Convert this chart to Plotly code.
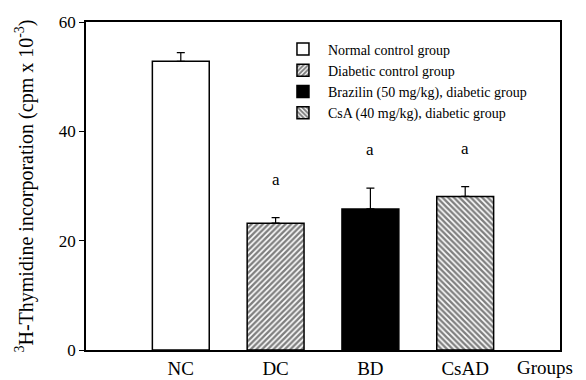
import plotly.graph_objects as go

categories = ["NC", "DC", "BD", "CsAD"]
legend_names = ["Normal control group", "Diabetic control group",
                "Brazilin (50 mg/kg), diabetic group", "CsA (40 mg/kg), diabetic group"]
values = [52.8, 23.2, 25.8, 28.1]
errors = [1.6, 1.0, 3.8, 1.8]
sig_labels = ["", "a", "a", "a"]
y_ticks = [0, 20, 40, 60]

FONT = "Liberation Serif"
fills = [
    dict(color="white", pattern=dict(shape="")),
    dict(color="white", pattern=dict(shape="/", fgcolor="black", bgcolor="white", size=4, solidity=0.6)),
    dict(color="black", pattern=dict(shape="")),
    dict(color="white", pattern=dict(shape="\\", fgcolor="black", bgcolor="white", size=4, solidity=0.6)),
]

fig = go.Figure()
for i, cat in enumerate(categories):
    fig.add_trace(go.Bar(
        x=[i], y=[values[i]], name=legend_names[i], width=0.6,
        marker=dict(color=fills[i]["color"], pattern=fills[i]["pattern"],
                    line=dict(color="black", width=1.5)),
        error_y=dict(type="data", array=[errors[i]], arrayminus=[0], symmetric=False,
                     color="black", thickness=1.2, width=4),
    ))
    if sig_labels[i]:
        fig.add_annotation(x=i, y=values[i] + errors[i], text=sig_labels[i], showarrow=False,
                           yanchor="bottom", yshift=27, font=dict(family=FONT, size=17, color="black"))

fig.add_annotation(x=1, xref="paper", xanchor="right", y=0, yref="y", yanchor="top", yshift=-5,
                   xshift=15, text="Groups", showarrow=False,
                   font=dict(family=FONT, size=19, color="black"))

# page body adds an 8px margin; size the figure so the plot area lands where the reference has it
fig.update_layout(
    width=578, height=372,
    margin=dict(l=78, r=26, t=14, b=30),
    paper_bgcolor="white", plot_bgcolor="white",
    font=dict(family=FONT, size=15, color="black"),
    showlegend=True,
    legend=dict(x=0.405, y=0.965, xanchor="left", yanchor="top", bgcolor="rgba(0,0,0,0)",
                font=dict(family=FONT, size=14, color="black"), tracegroupgap=0, itemwidth=40),
    bargap=0.4,
)
fig.update_xaxes(range=[-1, 4], tickmode="array", tickvals=list(range(len(categories))),
                 ticktext=categories, showline=True, linecolor="black", linewidth=1.5,
                 mirror=True, ticks="", showgrid=False, zeroline=False, automargin=False,
                 tickfont=dict(family=FONT, size=19, color="black"))
fig.update_yaxes(range=[0, 60], tickvals=y_ticks, showline=True, linecolor="black", linewidth=1.5,
                 mirror=True, ticks="outside", ticklen=5, tickcolor="black", showgrid=False,
                 zeroline=False, automargin=False, tickfont=dict(family=FONT, size=17, color="black"),
                 title=dict(text="<sup>3</sup>H-Thymidine incorporation (cpm x 10<sup>-3</sup>)",
                            font=dict(family=FONT, size=20, color="black"), standoff=20))

fig.write_html("out.html")
